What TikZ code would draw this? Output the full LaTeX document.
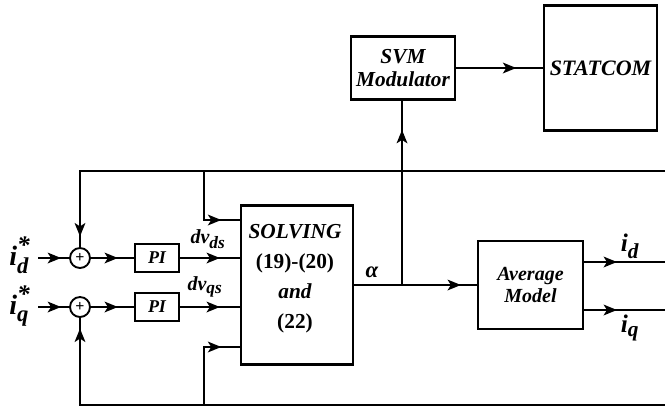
\documentclass[tikz,border=0pt]{standalone}
\usepackage{amsmath}
\usepackage{fontspec}
\setmainfont{Liberation Serif}
\usetikzlibrary{arrows.meta,decorations.markings}
\newcommand{\bv}[1]{\text{\bfseries\itshape #1}}
\newcommand{\sv}[2]{\text{\fontsize{#1}{#1}\selectfont\bfseries\itshape #2}}
\newcommand{\bitf}{\bfseries\itshape}
\begin{document}
\begin{tikzpicture}[x=0.75pt,y=-0.75pt, line width=1.6pt,
  box/.style={draw, line width=1.6pt, inner sep=0pt},
  sumnode/.style={draw, circle, minimum size=15pt, inner sep=0pt, line width=1.4pt},
  arr/.style={postaction={decorate}, decoration={markings, mark=at position #1 with {\arrow{Stealth[length=10pt,width=8pt,inset=2.5pt]}}}},
  lbl/.style={inner sep=0pt}]
\useasboundingbox (0,0) rectangle (665,411);

% nodes
\node[sumnode] (sd) at (80,258) {\fontsize{12}{12}\selectfont\bfseries +};
\node[sumnode] (sq) at (80,307) {\fontsize{12}{12}\selectfont\bfseries +};
\node[box, minimum width=33pt, minimum height=21pt, font=\fontsize{13.5}{13.5}\selectfont\bitf] (pid) at (157,258) {PI};
\node[box, minimum width=33pt, minimum height=21pt, font=\fontsize{13.5}{13.5}\selectfont\bitf] (piq) at (157,307) {PI};
\node[box, minimum width=84pt, minimum height=119.25pt] (solving) at (297,285) {};
\node[lbl, align=center, font=\fontsize{16}{22.5}\selectfont\bfseries] (soltxt) at (295,279)
  {{\itshape SOLVING}\\(19)-(20)\\{\itshape and}\\(22)};
\node[box, minimum width=78pt, minimum height=47.25pt, align=center, font=\fontsize{16}{17}\selectfont\bitf] (svm) at (403,68) {SVM\\Modulator};
\node[box, minimum width=84.75pt, minimum height=93.75pt, font=\fontsize{16.5}{16.5}\selectfont\bitf] (statcom) at (600.5,68) {STATCOM};
\node[box, minimum width=78.75pt, minimum height=66pt, align=center, font=\fontsize{15}{16.5}\selectfont\bitf] (avg) at (530.5,285) {Average\\Model};

% labels
\node[lbl, font=\fontsize{21}{21}\selectfont] (lid) at (20,255) {$\bv{i}^{\sv{19}{*}}_{\sv{17}{d}}$};
\node[lbl, font=\fontsize{21}{21}\selectfont] (liq) at (20,306) {$\bv{i}^{\sv{19}{*}}_{\sv{17}{q}}$};
\node[lbl, font=\fontsize{15}{15}\selectfont] (ldvd) at (208,239) {$\bv{dv}_{\sv{13}{ds}}$};
\node[lbl, font=\fontsize{15}{15}\selectfont] (ldvq) at (205,287) {$\bv{dv}_{\sv{13}{qs}}$};
\node[lbl, font=\fontsize{17}{17}\selectfont\bitf] (lal) at (372,272) {α};
\node[lbl, font=\fontsize{19}{19}\selectfont] (lod) at (630,246) {$\bv{i}_{\sv{16}{d}}$};
\node[lbl, font=\fontsize{19}{19}\selectfont] (loq) at (630,328) {$\bv{i}_{\sv{16}{q}}$};

% coordinates
\coordinate (ind) at (38,258);
\coordinate (inq) at (38,307);
\coordinate (tr) at (665,171);
\coordinate (br) at (665,405);
\coordinate (tj) at (204,171);
\coordinate (bj) at (204,405);
\coordinate (aj) at (402,285);
\coordinate (idout) at (665,262);
\coordinate (iqout) at (665,310);

% connectors
\draw[arr=-6pt] (ind) -- (sd);
\draw[arr=-6pt] (inq) -- (sq);
\draw[arr=-12pt] (sd) -- (pid);
\draw[arr=-12pt] (sq) -- (piq);
\draw[arr=-15pt] (pid) -- (pid -| solving.west);
\draw[arr=-15pt] (piq) -- (piq -| solving.west);
\draw[arr=-8pt] (tr) -| (sd);
\draw[arr=-8pt] (br) -| (sq);
\draw[arr=-14pt] (tj) |- (solving.west |- 0,220);
\draw[arr=-14pt] (bj) |- (solving.west |- 0,347);
\draw (solving.east |- aj) -- (aj);
\draw[arr=-22pt] (aj) -- (aj |- svm.south);
\draw[arr=-12pt] (aj) -- (avg.west);
\draw[arr=-20pt] (svm) -- (statcom);
\draw[arr=-36pt] (avg.east |- idout) -- (idout);
\draw[arr=-36pt] (avg.east |- iqout) -- (iqout);
\end{tikzpicture}
\end{document}
